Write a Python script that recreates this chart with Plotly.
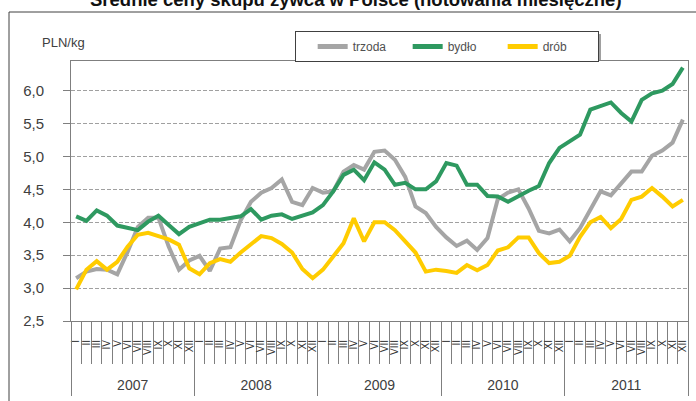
import plotly.graph_objects as go

years = ["2007", "2008", "2009", "2010", "2011"]
months = ["I", "II", "III", "IV", "V", "VI", "VII", "VIII", "IX", "X", "XI", "XII"]

trzoda = [3.15, 3.25, 3.29, 3.28, 3.21, 3.55, 3.93, 4.07, 4.07, 3.63, 3.28, 3.42,
          3.49, 3.26, 3.60, 3.62, 4.03, 4.31, 4.45, 4.52, 4.65, 4.31, 4.26, 4.52,
          4.45, 4.47, 4.77, 4.87, 4.80, 5.07, 5.09, 4.95, 4.69, 4.24, 4.14, 3.93,
          3.77, 3.64, 3.72, 3.58, 3.76, 4.35, 4.45, 4.50, 4.21, 3.87, 3.83, 3.89,
          3.71, 3.91, 4.19, 4.47, 4.41, 4.59, 4.77, 4.77, 5.01, 5.09, 5.21, 5.56]
bydlo = [4.09, 4.02, 4.18, 4.10, 3.95, 3.92, 3.88, 4.01, 4.10, 3.96, 3.82, 3.93,
         3.98, 4.04, 4.04, 4.06, 4.09, 4.20, 4.04, 4.10, 4.12, 4.05, 4.10, 4.15,
         4.26, 4.47, 4.72, 4.80, 4.64, 4.91, 4.80, 4.57, 4.60, 4.50, 4.50, 4.62,
         4.90, 4.86, 4.57, 4.57, 4.40, 4.39, 4.31, 4.40, 4.48, 4.55, 4.90, 5.13,
         5.23, 5.33, 5.71, 5.76, 5.82, 5.66, 5.53, 5.86, 5.96, 6.00, 6.10, 6.35]
drob = [2.98, 3.28, 3.41, 3.28, 3.40, 3.63, 3.81, 3.84, 3.79, 3.74, 3.66, 3.30,
        3.21, 3.38, 3.44, 3.40, 3.54, 3.67, 3.79, 3.76, 3.67, 3.54, 3.29, 3.15,
        3.28, 3.48, 3.68, 4.06, 3.71, 4.00, 4.00, 3.88, 3.71, 3.54, 3.25, 3.28,
        3.26, 3.23, 3.35, 3.27, 3.35, 3.57, 3.62, 3.77, 3.77, 3.53, 3.38, 3.40,
        3.49, 3.78, 4.00, 4.08, 3.91, 4.05, 4.34, 4.39, 4.52, 4.39, 4.24, 4.34]

series_names = ["trzoda", "bydło", "drób"]
series_colors = ["#A5A5A5", "#2E9960", "#FFCC00"]

categories = [f"{m} {y}" for y in years for m in months]
month_text = [m for y in years for m in months]

FONT = "Liberation Sans, Arial, sans-serif"
TXT = "#404040"

fig = go.Figure()
for name, vals, col in zip(series_names, [trzoda, bydlo, drob], series_colors):
    fig.add_trace(go.Scatter(x=categories, y=vals, name=name, mode="lines",
                             line=dict(color=col, width=4), hoverinfo="skip"))

# helper trace for the year axis
fig.add_trace(go.Scatter(x=years, y=[None] * len(years), xaxis="x2",
                         showlegend=False, hoverinfo="skip", mode="lines"))

fig.update_layout(
    width=696, height=401,
    margin=dict(l=71, r=8, t=61, b=80, autoexpand=False),
    paper_bgcolor="white", plot_bgcolor="white",
    separators=", ",
    font=dict(family=FONT, color=TXT),
    showlegend=True,
    legend=dict(orientation="h", x=(295 - 71) / 617, y=(321 - 31) / 260,
                xanchor="left", yanchor="top",
                bgcolor="white", bordercolor="#404040", borderwidth=1,
                font=dict(size=12, color="#505050"),
                title=dict(text="&nbsp;&nbsp;", side="left", font=dict(size=12)),
                entrywidth=50, entrywidthmode="pixels",
                itemsizing="constant"),
    xaxis=dict(type="category", categoryorder="array", categoryarray=categories,
               range=[-0.5, len(categories) - 0.5],
               tickmode="array", tickvals=categories, ticktext=month_text,
               tickson="boundaries", ticks="outside", ticklen=42, tickwidth=1,
               tickcolor="#7F7F7F", tickangle=-90, ticklabelstandoff=14,
               tickfont=dict(size=10, color="#333333"),
               showgrid=False, zeroline=False,
               showline=True, linecolor="#7F7F7F", linewidth=1, mirror=True),
    xaxis2=dict(type="category", categoryorder="array", categoryarray=years,
                range=[-0.5, len(years) - 0.5], overlaying="x", anchor="y", side="bottom",
                tickson="boundaries", ticks="outside", ticklen=74, tickwidth=1,
                tickcolor="#7F7F7F", ticklabelstandoff=54,
                tickfont=dict(size=14, color=TXT),
                showgrid=False, zeroline=False, showline=False),
    yaxis=dict(range=[2.5, 6.45], tickmode="linear", tick0=2.5, dtick=0.5,
               tickformat=".1f", ticks="outside", ticklen=7, tickcolor="#7F7F7F",
               tickfont=dict(size=15, color=TXT), ticklabelstandoff=16,
               showgrid=True, gridcolor="#A0A0A0", gridwidth=1, griddash="4px,2px",
               zeroline=False, showline=True, linecolor="#7F7F7F", linewidth=1,
               mirror=True),
)

# outer chart frame
fig.add_shape(type="rect", xref="paper", yref="paper",
              x0=(9 - 71) / 617, x1=(710 - 71) / 617,
              y0=(321 - 420) / 260, y1=(321 - 12) / 260,
              line=dict(color="#404040", width=1), fillcolor="rgba(0,0,0,0)", layer="below")
# legend shadow
fig.add_shape(type="rect", xref="paper", yref="paper",
              x0=(298 - 71) / 617, x1=(601 - 71) / 617,
              y0=(321 - 60) / 260, y1=(321 - 34) / 260,
              line=dict(width=0), fillcolor="#A0A0A0", layer="above")

fig.add_annotation(text="PLN/kg", xref="paper", yref="paper",
                   x=(40 - 71) / 617, y=(321 - 42) / 260, xanchor="left", yanchor="middle",
                   showarrow=False, font=dict(size=13, color=TXT))
fig.add_annotation(text="<b>Średnie ceny skupu żywca w Polsce (notowania miesięczne)</b>",
                   xref="paper", yref="paper", x=(356 - 71) / 617, y=(321 - 0) / 260,
                   xanchor="center", yanchor="middle", showarrow=False,
                   font=dict(size=18.5, color="#111111"))

fig.write_html("out.html", config={"displayModeBar": False},
               post_script="document.body.style.margin='0';")
